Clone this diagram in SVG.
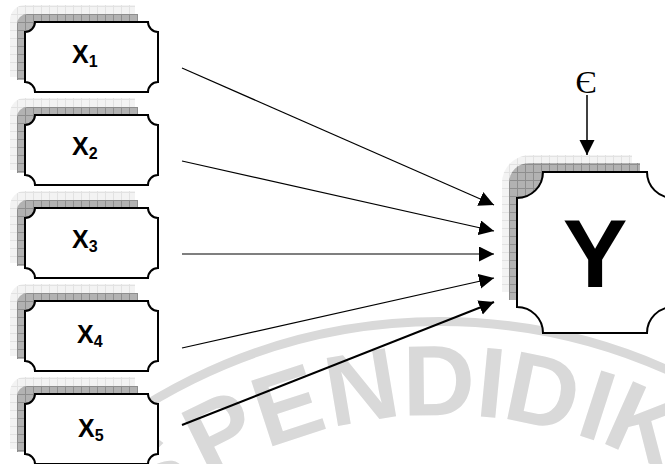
<svg xmlns="http://www.w3.org/2000/svg" width="665" height="464" viewBox="0 0 665 464">
  <style>
    .box { fill: #ffffff; stroke: #000000; stroke-width: 2; }
    .sh-dk { fill: url(#dk); }
    .sh-lt { fill: url(#lt); }
    .lbl { font-family: "Liberation Sans", Arial, sans-serif; font-weight: bold; font-size: 25px; fill: #000; }
    .sub { font-size: 16px; }
    .conn { stroke: #000; stroke-width: 1.2; fill: none; marker-end: url(#ah); }
    .wm { font-family: "Liberation Sans", Arial, sans-serif; font-weight: bold; font-size: 100px; fill: #d9d9d9; text-anchor: middle; }
  </style>
  <defs>
    <pattern id="dk" width="8" height="8" patternUnits="userSpaceOnUse">
      <rect width="8" height="8" fill="#b2b2b2"/>
      <path d="M0,0.5H8M0.5,0V8" stroke="#8e8e8e" stroke-width="1"/>
    </pattern>
    <pattern id="lt" width="8" height="8" patternUnits="userSpaceOnUse">
      <rect width="8" height="8" fill="#f3f3f3"/>
      <path d="M0,0.5H8M0.5,0V8" stroke="#e2e2e2" stroke-width="1"/>
    </pattern>
    <marker id="ah" markerUnits="userSpaceOnUse" markerWidth="16" markerHeight="16" refX="15" refY="7.5" orient="auto">
      <path d="M0,0 L15,7.5 L0,15 Z" fill="#000"/>
    </marker>
    <path id="xbox" d="M10,0 H123 A10,10 0 0 0 133,10 V60 A10,10 0 0 0 123,70 H10 A10,10 0 0 0 0,60 V10 A10,10 0 0 0 10,0 Z"/>
    <path id="xlt" d="M-15,55 V-2 A15,15 0 0 1 0,-17 H110 V55 Z"/>
    <path id="xdk" d="M-8,58 V2 A10,10 0 0 1 2,-8 H113 V58 Z"/>
  </defs>

  <g id="watermark">
    <path d="M12,521 A559,559 0 0 1 868,521" fill="none" stroke="#d9d9d9" stroke-width="9"/>
    <text class="wm" transform="translate(172,502) rotate(-36)">S</text>
    <text class="wm" transform="translate(236,463) rotate(-26.3)">P</text>
    <text class="wm" transform="translate(298,438) rotate(-18.1)">E</text>
    <text class="wm" transform="translate(367,421) rotate(-9.5)">N</text>
    <text class="wm" transform="translate(439,415) rotate(-0.6)">D</text>
    <text class="wm" transform="translate(488,417) rotate(5.5)">I</text>
    <text class="wm" transform="translate(536,425) rotate(11.7)">D</text>
    <text class="wm" transform="translate(587,438) rotate(17.9)">I</text>
    <text class="wm" transform="translate(632,456) rotate(24)">K</text>
  </g>

  <g id="x1" transform="translate(25,22)">
    <use href="#xlt" class="sh-lt"/>
    <use href="#xdk" class="sh-dk"/>
    <use href="#xbox" class="box"/>
    <text class="lbl" x="47" y="41">X<tspan class="sub" dy="4">1</tspan></text>
  </g>
  <g id="x2" transform="translate(25,115)">
    <use href="#xlt" class="sh-lt"/>
    <use href="#xdk" class="sh-dk"/>
    <use href="#xbox" class="box"/>
    <text class="lbl" x="47" y="40">X<tspan class="sub" dy="4">2</tspan></text>
  </g>
  <g id="x3" transform="translate(25,208)">
    <use href="#xlt" class="sh-lt"/>
    <use href="#xdk" class="sh-dk"/>
    <use href="#xbox" class="box"/>
    <text class="lbl" x="47" y="40">X<tspan class="sub" dy="4">3</tspan></text>
  </g>
  <g id="x4" transform="translate(25,301)">
    <use href="#xlt" class="sh-lt"/>
    <use href="#xdk" class="sh-dk"/>
    <use href="#xbox" class="box"/>
    <text class="lbl" x="52" y="42">X<tspan class="sub" dy="4">4</tspan></text>
  </g>
  <g id="x5" transform="translate(25,394)">
    <use href="#xlt" class="sh-lt"/>
    <use href="#xdk" class="sh-dk"/>
    <use href="#xbox" class="box"/>
    <text class="lbl" x="53" y="43">X<tspan class="sub" dy="4">5</tspan></text>
  </g>

  <g id="y" transform="translate(517,172)">
    <path class="sh-lt" d="M-15,120 V11 A28,28 0 0 1 13,-17 H115 V120 Z"/>
    <path class="sh-dk" d="M-8,128 V11 A20,20 0 0 1 12,-9 H123 V128 Z"/>
    <path class="box" d="M26,0 H130 A26,26 0 0 0 156,26 V135 A26,26 0 0 0 130,161 H26 A26,26 0 0 0 0,135 V26 A26,26 0 0 0 26,0 Z"/>
    <text x="78" y="115" text-anchor="middle" font-family="Liberation Sans, Arial, sans-serif" font-weight="bold" font-size="97">Y</text>
  </g>

  <g id="epsilon">
    <text x="586" y="93" text-anchor="middle" font-family="Liberation Serif, Times New Roman, serif" font-size="32">Є</text>
  </g>

  <g id="connectors">
    <line class="conn" x1="182" y1="68" x2="494" y2="205"/>
    <line class="conn" x1="182" y1="161" x2="494" y2="231"/>
    <line class="conn" x1="182" y1="254" x2="494" y2="254"/>
    <line class="conn" x1="182" y1="348" x2="494" y2="278"/>
    <line class="conn" x1="182" y1="425" x2="494" y2="302" style="stroke-width:2"/>
    <line class="conn" x1="587" y1="95" x2="587" y2="155" style="stroke-width:1.5"/>
  </g>
</svg>
